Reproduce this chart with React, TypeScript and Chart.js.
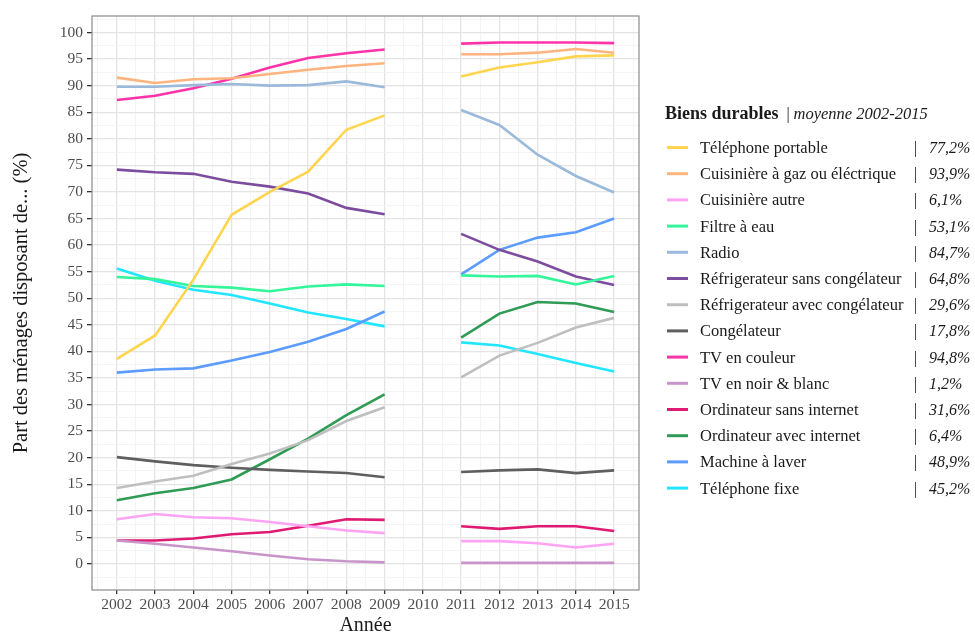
import React, { useEffect, useRef } from "react";
import { Chart, registerables } from "chart.js";

Chart.register(...registerables);

const SERIF = '"Liberation Serif", "Times New Roman", serif';

// ---- Data ----
const years = [2002, 2003, 2004, 2005, 2006, 2007, 2008, 2009, 2010, 2011, 2012, 2013, 2014, 2015];
const yTickLabels = [0, 5, 10, 15, 20, 25, 30, 35, 40, 45, 50, 55, 60, 65, 70, 75, 80, 85, 90, 95, 100];

const telephonePortable = [38.6, 43.0, 53.5, 65.7, 70.0, 73.8, 81.7, 84.4, null, 91.7, 93.4, 94.4, 95.5, 95.7];
const cuisiniereGaz = [91.5, 90.5, 91.2, 91.4, 92.2, 93.0, 93.7, 94.2, null, 95.9, 95.9, 96.2, 96.9, 96.2];
const cuisiniereAutre = [8.4, 9.4, 8.8, 8.6, 7.9, 7.1, 6.3, 5.8, null, 4.3, 4.3, 3.9, 3.1, 3.8];
const filtreEau = [54.0, 53.6, 52.3, 52.0, 51.3, 52.2, 52.6, 52.3, null, 54.3, 54.1, 54.2, 52.6, 54.2];
const radio = [89.8, 89.8, 90.1, 90.3, 90.0, 90.1, 90.8, 89.7, null, 85.4, 82.6, 77.0, 73.0, 69.9];
const refrigSans = [74.2, 73.7, 73.4, 71.9, 71.0, 69.7, 67.0, 65.8, null, 62.1, 59.1, 56.9, 54.1, 52.5];
const refrigAvec = [14.3, 15.5, 16.6, 18.8, 20.8, 23.3, 26.9, 29.5, null, 35.1, 39.2, 41.6, 44.5, 46.3];
const congelateur = [20.1, 19.3, 18.6, 18.1, 17.7, 17.4, 17.1, 16.3, null, 17.3, 17.6, 17.8, 17.1, 17.6];
const tvCouleur = [87.3, 88.1, 89.5, 91.3, 93.4, 95.2, 96.1, 96.8, null, 97.9, 98.1, 98.1, 98.1, 98.0];
const tvNoirBlanc = [4.4, 3.8, 3.1, 2.4, 1.6, 0.9, 0.5, 0.3, null, 0.2, 0.2, 0.2, 0.2, 0.2];
const ordiSansInternet = [4.4, 4.4, 4.8, 5.6, 6.0, 7.2, 8.4, 8.3, null, 7.1, 6.6, 7.1, 7.1, 6.2];
const ordiAvecInternet = [12.0, 13.3, 14.3, 15.9, 19.7, 23.6, 28.0, 31.9, null, 42.6, 47.1, 49.3, 49.0, 47.4];
const machineLaver = [36.0, 36.6, 36.8, 38.3, 39.9, 41.8, 44.2, 47.5, null, 54.5, 59.1, 61.4, 62.4, 65.0];
const telephoneFixe = [55.6, 53.3, 51.6, 50.6, 49.0, 47.3, 46.1, 44.7, null, 41.7, 41.1, 39.5, 37.8, 36.2];

const seriesLabels = [
  "Téléphone portable",
  "Cuisinière à gaz ou éléctrique",
  "Cuisinière autre",
  "Filtre à eau",
  "Radio",
  "Réfrigerateur sans congélateur",
  "Réfrigerateur avec congélateur",
  "Congélateur",
  "TV en couleur",
  "TV en noir & blanc",
  "Ordinateur sans internet",
  "Ordinateur avec internet",
  "Machine à laver",
  "Téléphone fixe",
];
const seriesValues = [
  telephonePortable, cuisiniereGaz, cuisiniereAutre, filtreEau, radio, refrigSans, refrigAvec,
  congelateur, tvCouleur, tvNoirBlanc, ordiSansInternet, ordiAvecInternet, machineLaver, telephoneFixe,
];
const seriesAverages = [
  "77,2%", "93,9%", "6,1%", "53,1%", "84,7%", "64,8%", "29,6%",
  "17,8%", "94,8%", "1,2%", "31,6%", "6,4%", "48,9%", "45,2%",
];
const seriesColors = [
  "#ffd54f", "#fdb47f", "#ffa3f5", "#33f59a", "#9bb9db", "#7c4d9f", "#bfbfbf",
  "#5f5f5f", "#ff33a8", "#c994c9", "#e01a72", "#2f9b55", "#5c9cff", "#22e6ff",
];

const legendTitle = "Biens durables";
const legendSubtitle = "moyenne 2002-2015";
const xTitle = "Année";
const yTitle = "Part des ménages disposant de... (%)";

const MAJOR = "#e4e4e4";
const MINOR = "#f1f1f1";

const legendPlugin = {
  id: "customLegend",
  afterDraw(chart: any) {
    const ctx = chart.ctx as CanvasRenderingContext2D;
    const area = chart.chartArea;
    ctx.save();
    // panel border
    ctx.strokeStyle = "#8a8a8a";
    ctx.lineWidth = 1.2;
    ctx.strokeRect(area.left, area.top, area.right - area.left, area.bottom - area.top);

    const x0 = 665;
    const titleY = 118.5;
    ctx.textBaseline = "alphabetic";
    ctx.textAlign = "left";
    ctx.fillStyle = "#1a1a1a";
    ctx.font = `bold 18px ${SERIF}`;
    ctx.fillText(legendTitle, x0, titleY);
    const w = ctx.measureText(legendTitle).width;
    ctx.font = `16px ${SERIF}`;
    ctx.fillText("|", x0 + w + 8, titleY);
    ctx.font = `italic 16.5px ${SERIF}`;
    ctx.fillText(legendSubtitle, x0 + w + 15, titleY);

    seriesLabels.forEach((label, i) => {
      const y = 147.5 + i * 26.2;
      ctx.strokeStyle = seriesColors[i];
      ctx.lineWidth = 3;
      ctx.beginPath();
      ctx.moveTo(667, y);
      ctx.lineTo(688, y);
      ctx.stroke();
      ctx.fillStyle = "#1a1a1a";
      ctx.font = `16.5px ${SERIF}`;
      ctx.fillText(label, 700, y + 5.5);
      ctx.font = `16px ${SERIF}`;
      ctx.fillText("|", 914, y + 5.5);
      ctx.font = `italic 16px ${SERIF}`;
      ctx.fillText(seriesAverages[i], 929, y + 5.5);
    });
    ctx.restore();
  },
};

export default function App() {
  const canvasRef = useRef<HTMLCanvasElement | null>(null);

  useEffect(() => {
    if (!canvasRef.current) return;
    const datasets = seriesLabels.map((label, i) => ({
      label,
      data: years.map((yr, j) => ({ x: yr, y: seriesValues[i][j] })),
      borderColor: seriesColors[i],
      backgroundColor: seriesColors[i],
      borderWidth: 2.6,
      pointRadius: 0,
      tension: 0,
      spanGaps: false,
      fill: false,
    }));

    const xGrid = years.flatMap((v) => [v - 0.5, v]).concat([years[years.length - 1] + 0.5]);
    const yGrid = yTickLabels.flatMap((v) => [v - 2.5, v]).concat([yTickLabels[yTickLabels.length - 1] + 2.5]);
    const isMajorX = (v: number) => Math.abs(v - Math.round(v)) < 1e-6;
    const isMajorY = (v: number) => Math.abs(v / 5 - Math.round(v / 5)) < 1e-6;

    const chart = new Chart(canvasRef.current, {
      type: "line",
      data: { datasets: datasets as any },
      plugins: [legendPlugin],
      options: {
        responsive: false,
        animation: false,
        devicePixelRatio: 1,
        layout: { padding: { left: 0, top: 16, right: 336, bottom: 0 } },
        plugins: { legend: { display: false }, tooltip: { enabled: false } },
        scales: {
          x: {
            type: "linear",
            min: 2001.35,
            max: 2015.65,
            afterBuildTicks: (axis: any) => {
              axis.ticks = xGrid.map((v) => ({ value: v }));
            },
            afterFit: (axis: any) => {
              axis.height = 43;
            },
            ticks: {
              autoSkip: false,
              maxRotation: 0,
              padding: 2,
              color: "#4d4d4d",
              font: { family: SERIF, size: 15.5 },
              callback: (v: any) => (isMajorX(Number(v)) ? String(v) : ""),
            },
            grid: {
              color: (c: any) => (isMajorX(c.tick.value) ? MAJOR : MINOR),
              lineWidth: (c: any) => (isMajorX(c.tick.value) ? 1.3 : 0.8),
              tickLength: 4,
              tickColor: (c: any) => (isMajorX(c.tick.value) ? "#333333" : "rgba(0,0,0,0)"),
            },
            border: { display: false },
            title: {
              display: true,
              text: xTitle,
              color: "#1a1a1a",
              font: { family: SERIF, size: 20, lineHeight: 1 },
              padding: { top: 0, bottom: -3 },
            },
          },
          y: {
            type: "linear",
            min: -4.9,
            max: 103.1,
            afterBuildTicks: (axis: any) => {
              axis.ticks = yGrid.map((v) => ({ value: v }));
            },
            afterFit: (axis: any) => {
              axis.width = 92;
            },
            ticks: {
              autoSkip: false,
              padding: 4,
              color: "#4d4d4d",
              font: { family: SERIF, size: 15.5 },
              callback: (v: any) => (isMajorY(Number(v)) ? String(v) : ""),
            },
            grid: {
              color: (c: any) => (isMajorY(c.tick.value) ? MAJOR : MINOR),
              lineWidth: (c: any) => (isMajorY(c.tick.value) ? 1.3 : 0.8),
              tickLength: 5,
              tickColor: (c: any) => (isMajorY(c.tick.value) ? "#333333" : "rgba(0,0,0,0)"),
            },
            border: { display: false },
            title: {
              display: true,
              text: yTitle,
              color: "#1a1a1a",
              font: { family: SERIF, size: 20.5, lineHeight: 1 },
              padding: { top: 11, bottom: 0 },
            },
          },
        },
      } as any,
    });
    return () => chart.destroy();
  }, []);

  return (
    <div style={{ position: "absolute", left: 0, top: 0, width: 975, height: 633, background: "#ffffff" }}>
      <canvas ref={canvasRef} width={975} height={633} />
    </div>
  );
}
